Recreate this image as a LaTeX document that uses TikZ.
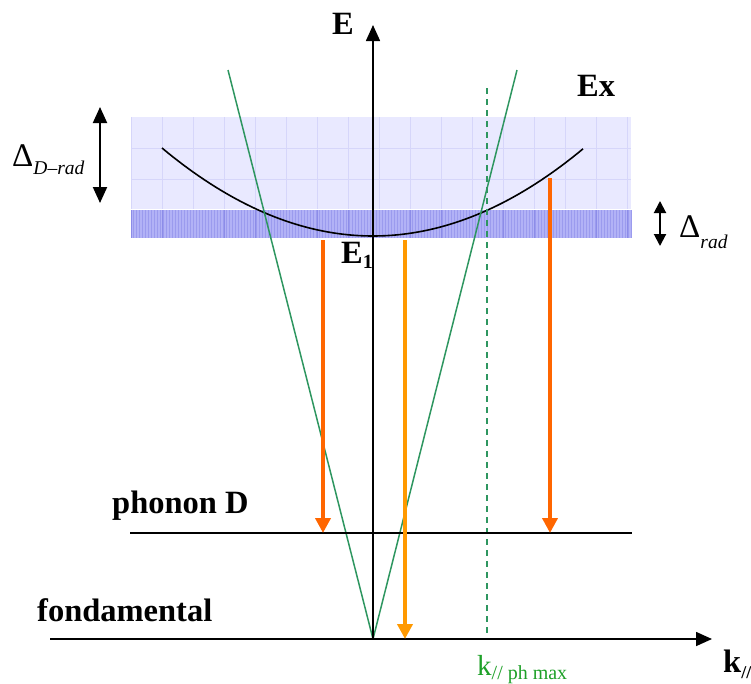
\documentclass[tikz,border=0pt]{standalone}
\usepackage{fontspec}
\setmainfont{Liberation Serif}
\usetikzlibrary{positioning,arrows.meta}

\definecolor{bandlight}{RGB}{233,233,255}
\definecolor{banddark}{RGB}{178,178,246}
\definecolor{gridlight}{RGB}{214,214,250}
\definecolor{griddark}{RGB}{140,140,232}
\definecolor{conegreen}{RGB}{46,150,96}
\definecolor{labgreen}{RGB}{30,160,40}
\definecolor{orangedark}{RGB}{255,102,0}
\definecolor{orangelight}{RGB}{255,153,0}

\begin{document}
\begin{tikzpicture}[x=1pt, y=-1pt,
  axis/.style={line width=1.6pt, -{Triangle[width=14pt,length=16pt]}},
  lvl/.style={line width=1.6pt},
  cone/.style={draw=conegreen, line width=1.5pt},
  trans/.style={line width=4pt, -{Triangle[width=15pt,length=15pt]}},
  span/.style={line width=2pt, {Triangle[width=14pt,length=16pt]}-{Triangle[width=14pt,length=16pt]}},
  bigl/.style={font={\fontsize{32.5}{38}\selectfont\bfseries}, inner sep=0pt, anchor=base west}
]
\useasboundingbox (0,0) rectangle (751,683);

% bands
\fill[bandlight] (131,117) rectangle (631,208.5);
\fill[banddark] (131,210) rectangle (631,238);
\foreach \gx in {131,162,...,631} {
  \draw[gridlight, line width=0.6pt] (\gx,117) -- (\gx,208.5);
  \draw[griddark, line width=0.6pt] (\gx,210) -- (\gx,238);
}
\foreach \gy in {148,179}
  \draw[gridlight, line width=0.6pt] (131,\gy) -- (631,\gy);
\foreach \gx in {133,136,...,631}
  \draw[griddark!60!banddark, line width=0.3pt] (\gx,210) -- (\gx,238);

% coordinates
\coordinate (O) at (373,639);
\coordinate (kL) at (50,639);
\coordinate (kR) at (712,639);
\coordinate (Etop) at (373,25);
\coordinate (cL) at (228,70);
\coordinate (cR) at (517,70);
\coordinate (dT) at (487,88);
\coordinate (dB) at (487,639);
\coordinate (pL) at (130,533);
\coordinate (pR) at (632,533);

% exciton dispersion
\draw[line width=1.6pt] plot[domain=162:583, samples=80] (\x, {236-88*((\x-373)/211)^2});

% light cone
\draw[cone] (O) -- (cL);
\draw[cone] (O) -- (cR);
\draw[cone, dash pattern=on 6pt off 5pt] (dT) -- (dB);

% axes and levels
\draw[axis] (kL) -- (kR);
\draw[axis] (O) -- (Etop);
\draw[lvl] (pL) -- (pR);

% transitions
\coordinate (a1) at (323,240);
\coordinate (b1) at (323,533);
\coordinate (a2) at (405,240);
\coordinate (b2) at (405,639);
\coordinate (a3) at (550,178);
\coordinate (b3) at (550,533);
\draw[trans, orangedark] (a1) -- (b1);
\draw[trans, orangelight] (a2) -- (b2);
\draw[trans, orangedark] (a3) -- (b3);

% widths
\coordinate (sDt) at (100,107);
\coordinate (sDb) at (100,203);
\coordinate (sRt) at (660,201);
\coordinate (sRb) at (660,246);
\draw[span] (sDt) -- (sDb);
\draw[span, {Triangle[width=12pt,length=12pt]}-{Triangle[width=12pt,length=12pt]}] (sRt) -- (sRb);

% labels
\node[bigl] (labE) at (332,34) {E};
\node[bigl] (labEx) at (577,96) {Ex};
\node[bigl] (labE1) at (341,263) {E\raisebox{-5pt}{\fontsize{20}{24}\selectfont 1}};
\node[bigl] (labphon) at (112,513) {phonon D};
\node[bigl] (labfond) at (37,621) {fondamental};
\node[bigl] (labk) at (723,672) {k\raisebox{-6pt}{\fontsize{18}{20}\selectfont //}};
\node[inner sep=0pt, anchor=base west, text=labgreen, font={\fontsize{29}{32}\selectfont}] (labkmax) at (477,675)
  {k\raisebox{-4pt}{\fontsize{20}{22}\selectfont // ph max}};
\node[inner sep=0pt, anchor=base west] (labDD) at (12,166)
  {{\fontsize{33}{36}\selectfont Δ}\raisebox{-8pt}{\fontsize{19.5}{22}\selectfont\itshape D–rad}};
\node[inner sep=0pt, anchor=base west] (labDR) at (679,237)
  {{\fontsize{33}{36}\selectfont Δ}\raisebox{-11pt}{\fontsize{19.5}{22}\selectfont\itshape rad}};
\end{tikzpicture}
\end{document}
